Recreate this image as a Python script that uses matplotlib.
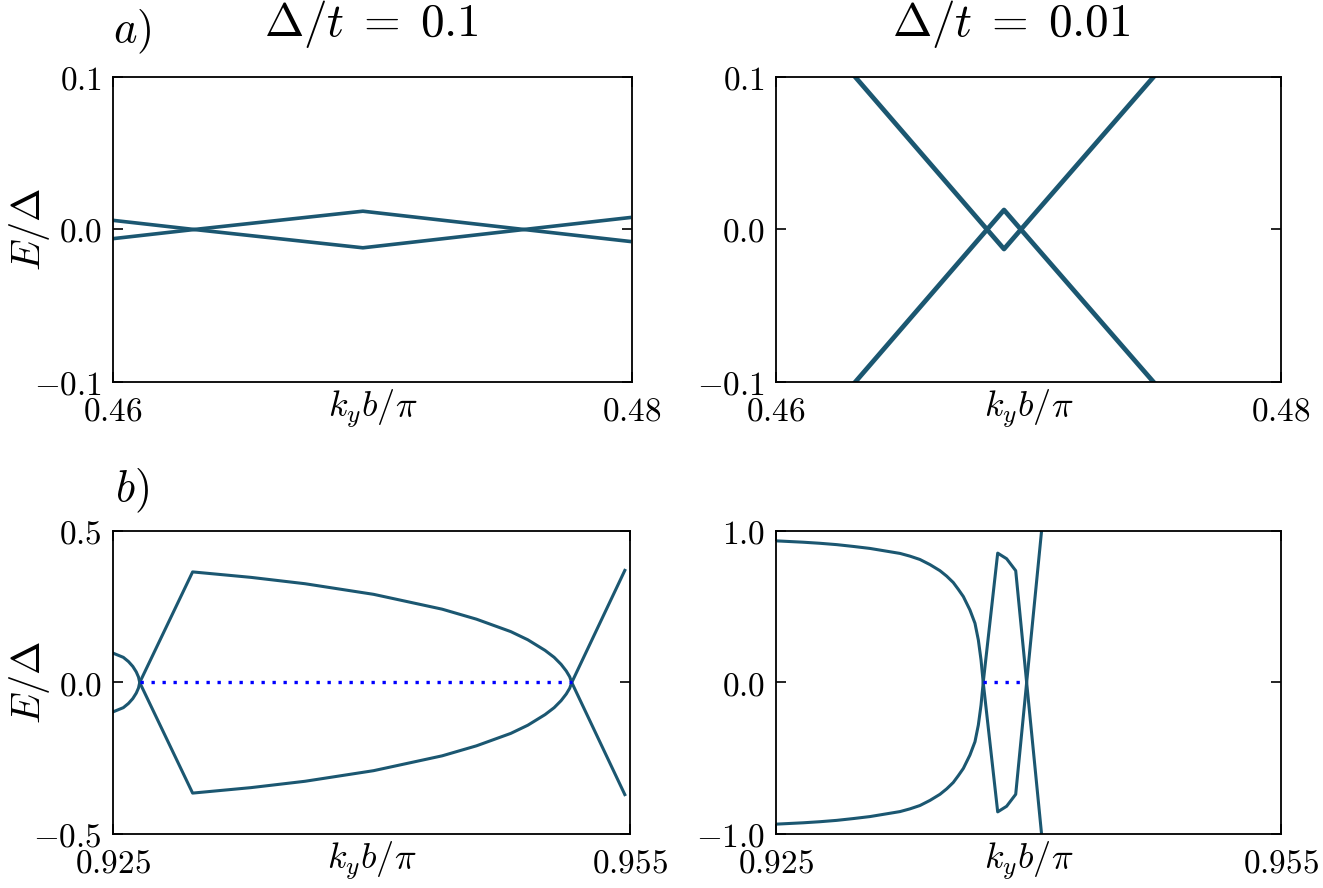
import matplotlib
matplotlib.use("Agg")
import matplotlib.pyplot as plt

plt.rcParams['mathtext.fontset'] = 'cm'
plt.rcParams['font.family'] = 'serif'
plt.rcParams['font.serif'] = ['DejaVu Serif']

line_color = '#1b5771'
dot_color = '#0000ff'

# a) Delta/t = 0.1  (one branch; the other is its mirror)
k_a1 = [0.46, 0.46313, 0.46963, 0.47584, 0.4799]
E_a1 = [0.0060, 0.0, -0.0120, 0.0, 0.0078]

# a) Delta/t = 0.01
k_a2 = [0.4622, 0.46836, 0.46903, 0.4697, 0.4760]
E_a2 = [0.118, 0.0, -0.0128, 0.0, 0.120]

# b) Delta/t = 0.1
k_b1 = [0.925, 0.92560, 0.92590, 0.92615, 0.92635, 0.92648, 0.92655, 0.92962,
        0.93300, 0.93614, 0.94012, 0.94410, 0.94609, 0.94808, 0.94907, 0.95007,
        0.95060, 0.95100, 0.95130, 0.95150, 0.95162, 0.9547]
E_b1 = [0.097, 0.083, 0.069, 0.053, 0.035, 0.018, 0.0, -0.365,
        -0.347, -0.326, -0.291, -0.242, -0.209, -0.168, -0.141, -0.106,
        -0.083, -0.060, -0.038, -0.019, 0.0, 0.370]
zero_b1 = [0.92655, 0.95162]

# b) Delta/t = 0.01
k_b2 = [0.925, 0.92662, 0.9276, 0.92861, 0.9296, 0.93058, 0.93237, 0.93296,
        0.93355, 0.93415, 0.93474, 0.93514, 0.93553, 0.93583, 0.93613, 0.93652,
        0.93682, 0.93702, 0.93718, 0.93731, 0.93817, 0.93870, 0.93924, 0.93989,
        0.94082]
E_b2 = [0.935, 0.926, 0.919, 0.910, 0.898, 0.885, 0.852, 0.834,
        0.812, 0.778, 0.738, 0.702, 0.660, 0.615, 0.567, 0.479,
        0.391, 0.281, 0.149, 0.0, -0.854, -0.817, -0.738, 0.0,
        1.05]
zero_b2 = [0.93731, 0.93989]

xt_a = [0.46, 0.48]
xt_a_lab = ['$0.46$', '$0.48$']
yt_a = [-0.1, 0.0, 0.1]
yt_a_lab = ['$-0.1$', '$0.0$', '$0.1$']
xt_b = [0.925, 0.955]
xt_b_lab = ['$0.925$', '$0.955$']
yt_b1 = [-0.5, 0.0, 0.5]
yt_b1_lab = ['$-0.5$', '$0.0$', '$0.5$']
yt_b2 = [-1.0, 0.0, 1.0]
yt_b2_lab = ['$-1.0$', '$0.0$', '$1.0$']

W, H = 1323, 888
fig = plt.figure(figsize=(W / 100, H / 100), dpi=100)

def px_axes(l, t, r, b):
    return fig.add_axes([l / W, 1 - b / H, (r - l) / W, (b - t) / H])

ax1 = px_axes(113, 77, 632, 382)
ax2 = px_axes(776, 77, 1281, 382)
ax3 = px_axes(113, 531, 630, 834)
ax4 = px_axes(776, 531, 1281, 834)

def style(ax, xt, xl, yt, yl, xlim, ylim):
    ax.set_xlim(xlim)
    ax.set_ylim(ylim)
    ax.set_xticks(xt)
    ax.set_xticklabels(xl)
    ax.set_yticks(yt)
    ax.set_yticklabels(yl)
    ax.tick_params(direction='in', length=7, width=1.2, labelsize=24,
                   top=True, right=True, pad=8)
    ax.tick_params(axis='x', pad=10)
    for s in ax.spines.values():
        s.set_linewidth(1.3)
    ax.set_xlabel(r'$k_y b/\pi$', fontsize=26, labelpad=-29)

# panel a, left
ax1.plot(k_a1, E_a1, color=line_color, lw=2.6)
ax1.plot(k_a1, [-e for e in E_a1], color=line_color, lw=2.6)
style(ax1, xt_a, xt_a_lab, yt_a, yt_a_lab, (0.46, 0.48), (-0.1, 0.1))

# panel a, right
ax2.plot(k_a2, E_a2, color=line_color, lw=3.4)
ax2.plot(k_a2, [-e for e in E_a2], color=line_color, lw=3.4)
style(ax2, xt_a, xt_a_lab, yt_a, yt_a_lab, (0.46, 0.48), (-0.1, 0.1))

# panel b, left
ax3.plot(k_b1, E_b1, color=line_color, lw=2.2)
ax3.plot(k_b1, [-e for e in E_b1], color=line_color, lw=2.2)
ax3.plot(zero_b1, [0, 0], color=dot_color, lw=2.4, ls=(0, (1, 2.3)), zorder=3)
style(ax3, xt_b, xt_b_lab, yt_b1, yt_b1_lab, (0.925, 0.955), (-0.5, 0.5))

# panel b, right
ax4.plot(k_b2, E_b2, color=line_color, lw=2.2)
ax4.plot(k_b2, [-e for e in E_b2], color=line_color, lw=2.2)
ax4.plot(zero_b2, [0, 0], color=dot_color, lw=2.4, ls=(0, (1, 2.3)), zorder=3)
style(ax4, xt_b, xt_b_lab, yt_b2, yt_b2_lab, (0.925, 0.955), (-1.0, 1.0))

for yc in (229, 682):
    fig.text(29 / W, 1 - yc / H, r'$E/\Delta$', fontsize=29, rotation=90,
             ha='center', va='center')

fig.text(371 / W, 1 - 24 / H, r'$\Delta/t\;=\;0.1$', fontsize=34, ha='center', va='center')
fig.text(1011 / W, 1 - 24 / H, r'$\Delta/t\;=\;0.01$', fontsize=34, ha='center', va='center')
fig.text(132 / W, 1 - 32 / H, r'$a)$', fontsize=32, ha='center', va='center')
fig.text(132 / W, 1 - 491 / H, r'$b)$', fontsize=32, ha='center', va='center')

fig.savefig('out.png', dpi=100)
